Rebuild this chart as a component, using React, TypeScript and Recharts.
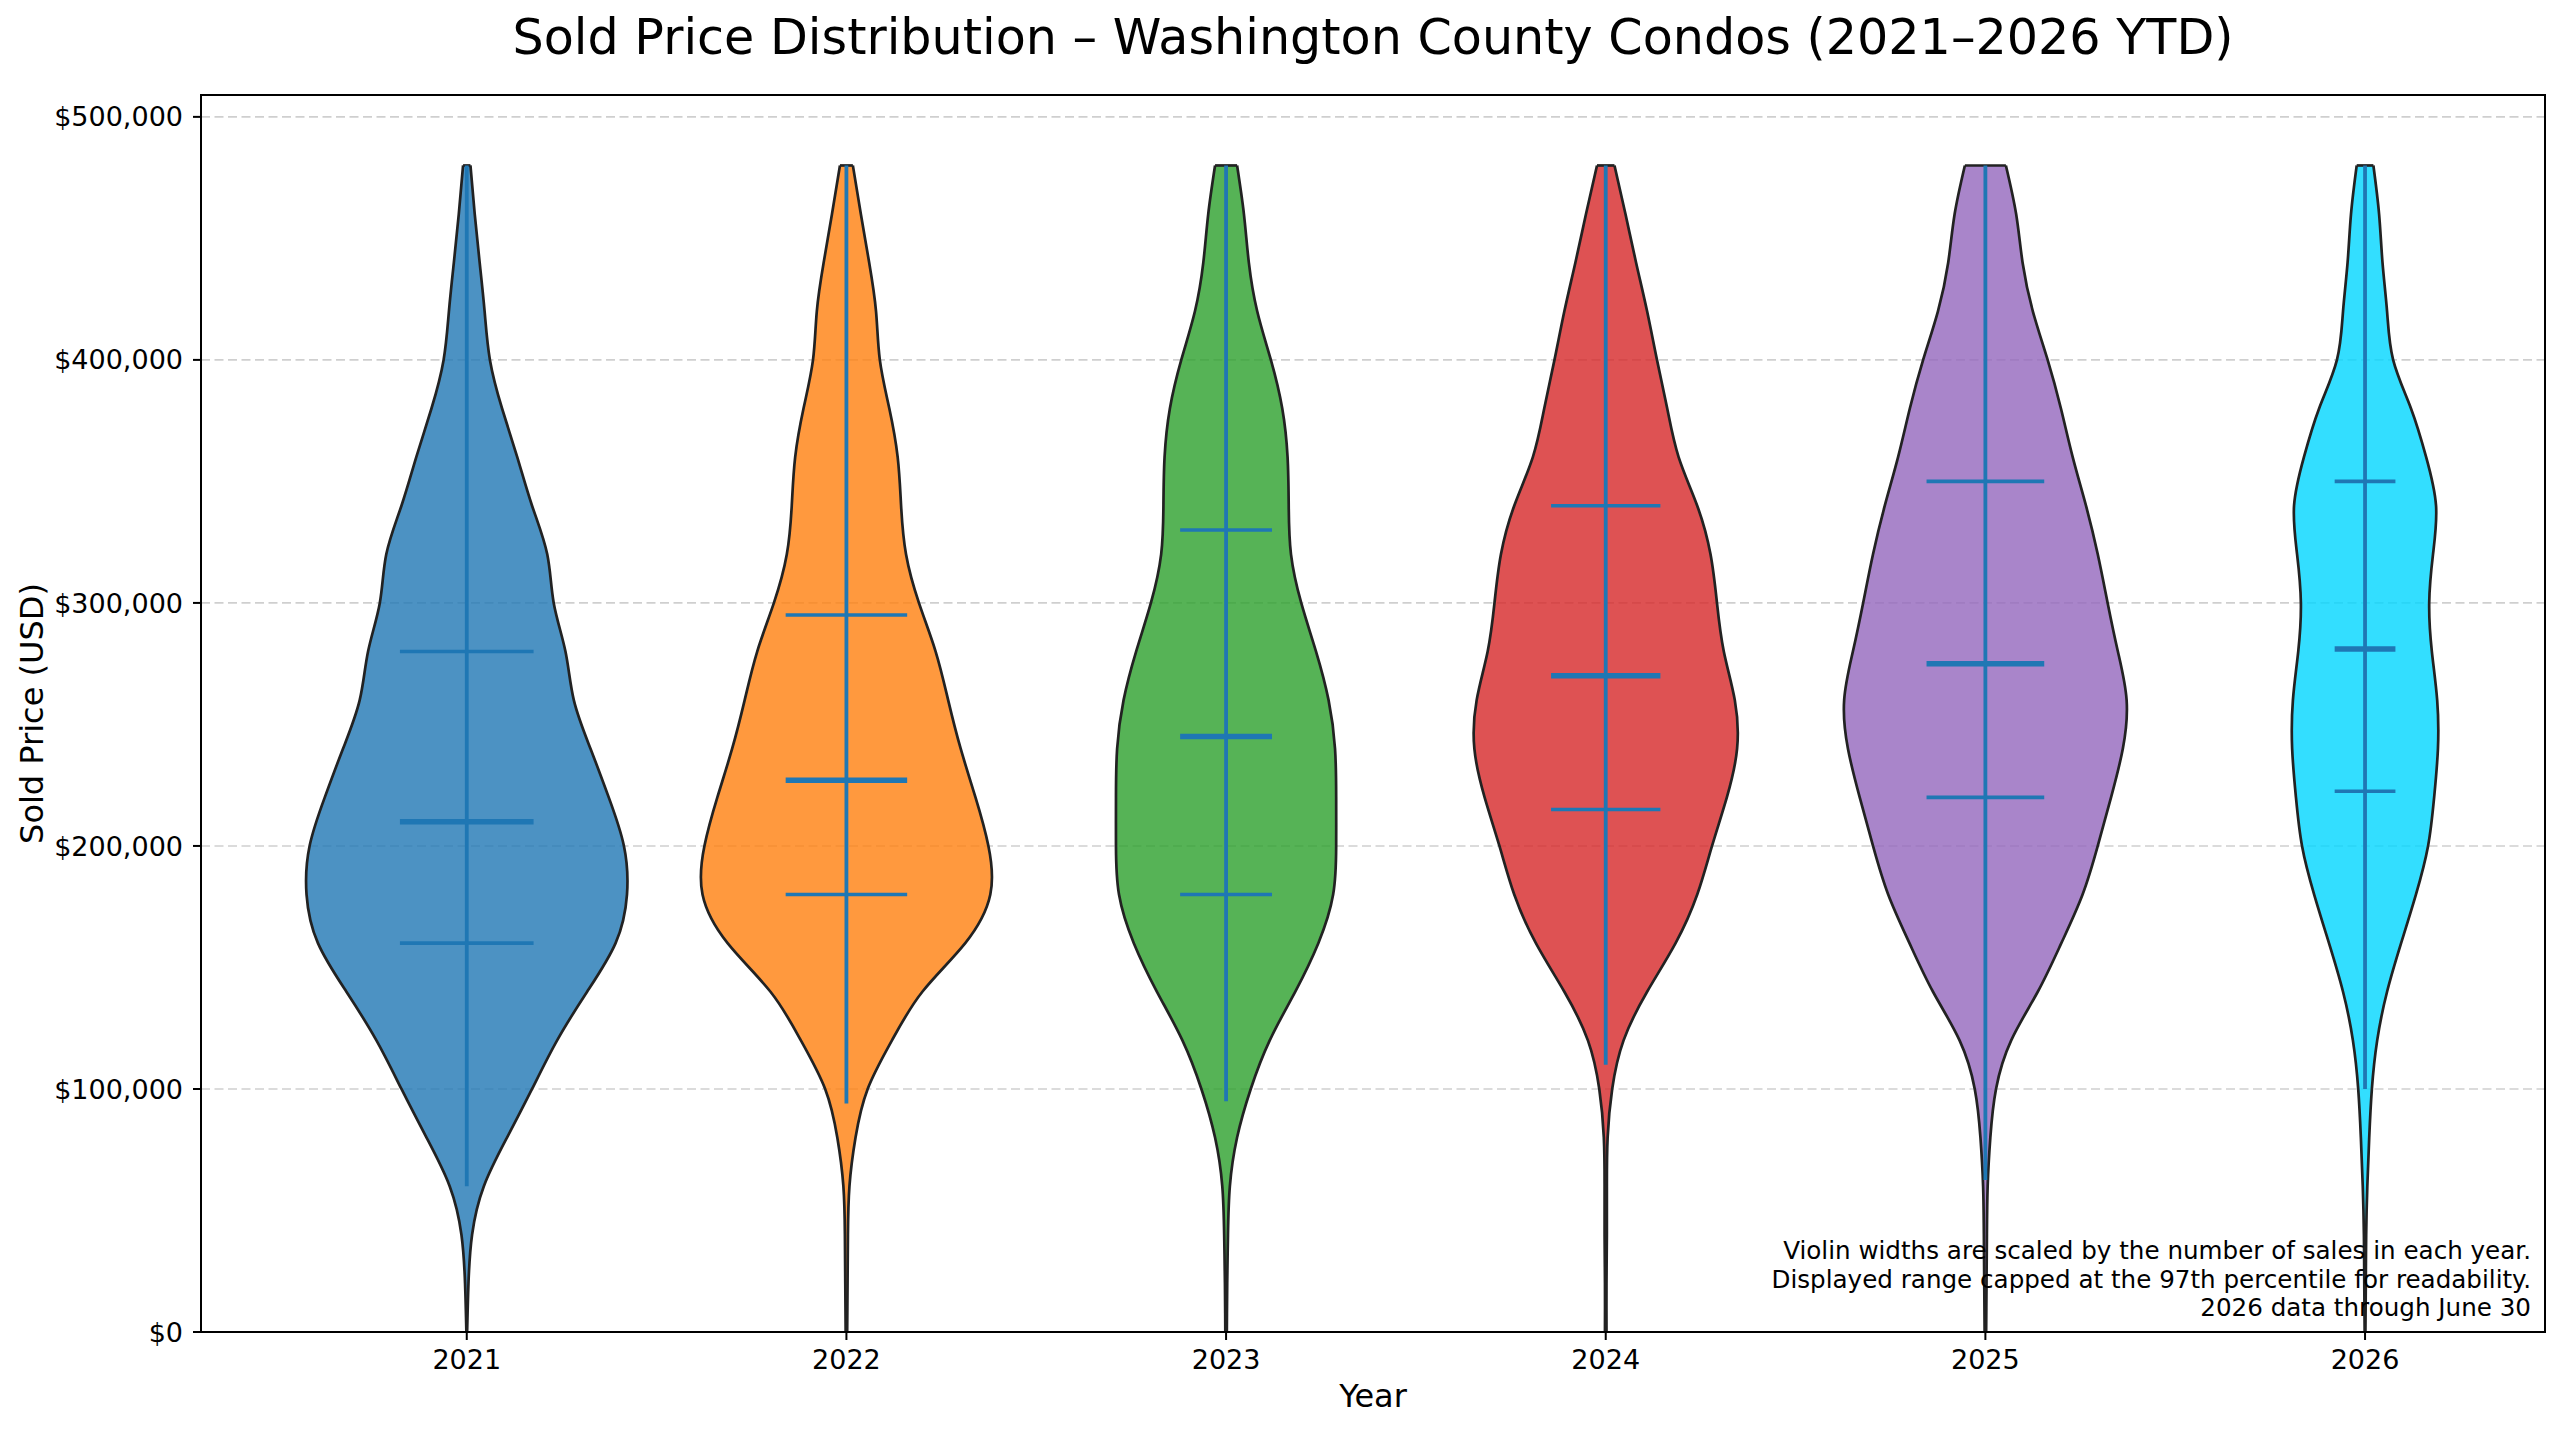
import React from 'react';
import {
  ComposedChart,
  Area,
  XAxis,
  YAxis,
  CartesianGrid,
  ReferenceLine,
  ReferenceArea,
} from 'recharts';

// price grid the violin outlines are sampled on
const PRICE_LEVELS = [
  0, 20000, 40000, 60000, 80000, 100000, 120000, 140000, 160000, 180000, 200000, 220000,
  240000, 260000, 280000, 300000, 320000, 340000, 360000, 380000, 400000, 420000, 440000,
  460000, 480000,
];

const YEARS = [2021, 2022, 2023, 2024, 2025, 2026];

// half-width of each violin (in year units) at every price level
const W2021 = [0.001, 0.0045, 0.014, 0.045, 0.106, 0.172, 0.238, 0.317, 0.392, 0.422, 0.414, 0.374, 0.326, 0.282, 0.26, 0.229, 0.212, 0.172, 0.133, 0.093, 0.061, 0.047, 0.034, 0.021, 0.0097];
const W2022 = [0.002, 0.003, 0.004, 0.008, 0.024, 0.056, 0.12, 0.2, 0.313, 0.379, 0.374, 0.34, 0.301, 0.268, 0.235, 0.191, 0.157, 0.144, 0.135, 0.113, 0.088, 0.078, 0.06, 0.038, 0.017];
const W2023 = [0.002, 0.003, 0.005, 0.01, 0.029, 0.065, 0.115, 0.182, 0.243, 0.282, 0.29, 0.29, 0.287, 0.27, 0.237, 0.198, 0.171, 0.165, 0.162, 0.148, 0.118, 0.082, 0.06, 0.047, 0.029];
const W2024 = [0.002, 0.002, 0.003, 0.003, 0.005, 0.017, 0.047, 0.109, 0.184, 0.241, 0.28, 0.319, 0.346, 0.34, 0.311, 0.293, 0.276, 0.241, 0.192, 0.162, 0.135, 0.109, 0.08, 0.052, 0.023];
const W2025 = [0.002, 0.003, 0.004, 0.006, 0.013, 0.028, 0.068, 0.138, 0.2, 0.256, 0.296, 0.331, 0.362, 0.372, 0.349, 0.322, 0.296, 0.265, 0.23, 0.199, 0.164, 0.125, 0.098, 0.081, 0.054];
const W2026 = [0.001, 0.002, 0.003, 0.006, 0.011, 0.018, 0.032, 0.058, 0.095, 0.134, 0.166, 0.182, 0.192, 0.19, 0.176, 0.169, 0.179, 0.187, 0.161, 0.121, 0.074, 0.058, 0.046, 0.037, 0.022];
const WIDTHS = [W2021, W2022, W2023, W2024, W2025, W2026];

const Q1 = [160000, 180000, 180000, 215000, 220000, 222500];
const MEDIANS = [210000, 227000, 245000, 270000, 275000, 281000];
const Q3 = [280000, 295000, 330000, 340000, 350000, 350000];
const BAR_LOW = [60000, 94000, 95000, 110000, 62500, 100000];
const BAR_HIGH = [480000, 480000, 480000, 480000, 480000, 480000];
const LINE_HALF = [0.176, 0.16, 0.121, 0.144, 0.155, 0.08];

const COLORS = ['#1f77b4', '#ff7f0e', '#2ca02c', '#d62728', '#9467bd', '#00d6ff'];

const Y_TICKS = [0, 100000, 200000, 300000, 400000, 500000];
const X_DOMAIN: [number, number] = [2020.3, 2026.474];
const Y_MAX = 509000;

const NOTES = [
  'Violin widths are scaled by the number of sales in each year.',
  'Displayed range capped at the 97th percentile for readability.',
  '2026 data through June 30',
];

const LINE_COLOR = '#1f77b4';
const EDGE_COLOR = '#222222';

const rows = PRICE_LEVELS.map((price, i) => {
  const row: Record<string, any> = { price };
  YEARS.forEach((year, k) => {
    const w = WIDTHS[k][i];
    row[`v${year}`] = [year - w, year + w];
  });
  return row;
});

const formatPrice = (v: number) => `$${v.toLocaleString('en-US')}`;

export default function App() {
  const topIndex = PRICE_LEVELS.length - 1;
  return (
    <div
      style={{
        position: 'absolute',
        left: 0,
        top: 0,
        width: 2560,
        height: 1431,
        background: '#fff',
        fontFamily: '"DejaVu Sans", sans-serif',
      }}
    >
      <ComposedChart
        layout="vertical"
        width={2560}
        height={1431}
        data={rows}
        margin={{ top: 95, right: 15, bottom: 0, left: 0 }}
      >
        <CartesianGrid vertical={false} stroke="#cfcfcf" strokeWidth={1.6} strokeDasharray="9 4.5" />
        <XAxis
          type="number"
          domain={X_DOMAIN}
          ticks={YEARS}
          allowDataOverflow
          height={99}
          axisLine={false}
          tickLine={{ stroke: '#000', strokeWidth: 2 }}
          tickSize={8}
          tickMargin={10}
          tick={{ fill: '#000', fontSize: 27 }}
        />
        <YAxis
          type="number"
          dataKey="price"
          domain={[0, Y_MAX]}
          ticks={Y_TICKS}
          reversed
          allowDataOverflow
          width={201}
          axisLine={false}
          tickLine={{ stroke: '#000', strokeWidth: 2 }}
          tickSize={8}
          tickMargin={10}
          tickFormatter={formatPrice}
          tick={{ fill: '#000', fontSize: 27 }}
        />
        {YEARS.map((year, k) => (
          <Area
            key={`violin-${year}`}
            type="natural"
            dataKey={`v${year}`}
            stroke={EDGE_COLOR}
            strokeWidth={2.7}
            fill={COLORS[k]}
            fillOpacity={0.8}
            dot={false}
            activeDot={false}
            isAnimationActive={false}
          />
        ))}
        {YEARS.map((year, k) => (
          <ReferenceLine
            key={`cap-${year}`}
            segment={[
              { x: year - WIDTHS[k][topIndex], y: PRICE_LEVELS[topIndex] },
              { x: year + WIDTHS[k][topIndex], y: PRICE_LEVELS[topIndex] },
            ]}
            stroke={EDGE_COLOR}
            strokeWidth={2.7}
            ifOverflow="visible"
          />
        ))}
        {YEARS.map((year, k) => (
          <ReferenceLine
            key={`bar-${year}`}
            segment={[
              { x: year, y: BAR_LOW[k] },
              { x: year, y: BAR_HIGH[k] },
            ]}
            stroke={LINE_COLOR}
            strokeWidth={3.8}
            ifOverflow="visible"
          />
        ))}
        {YEARS.map((year, k) =>
          [Q1[k], MEDIANS[k], Q3[k]].map((q, j) => (
            <ReferenceLine
              key={`q-${year}-${j}`}
              segment={[
                { x: year - LINE_HALF[k], y: q },
                { x: year + LINE_HALF[k], y: q },
              ]}
              stroke={LINE_COLOR}
              strokeWidth={j === 1 ? 5.5 : 3.6}
              ifOverflow="visible"
            />
          ))
        )}
        <ReferenceArea
          x1={X_DOMAIN[0]}
          x2={X_DOMAIN[1]}
          y1={0}
          y2={Y_MAX}
          fill="none"
          stroke="#000"
          strokeWidth={2}
          ifOverflow="visible"
        />
      </ComposedChart>
      <svg
        width={2560}
        height={1431}
        style={{ position: 'absolute', left: 0, top: 0, pointerEvents: 'none' }}
      >
        <text x={1373} y={54} textAnchor="middle" fontSize={49.2} fill="#000">
          Sold Price Distribution – Washington County Condos (2021–2026 YTD)
        </text>
        <text x={1373} y={1407} textAnchor="middle" fontSize={32} fill="#000">
          Year
        </text>
        <text
          x={43}
          y={713.5}
          textAnchor="middle"
          fontSize={32}
          fill="#000"
          transform="rotate(-90 43 713.5)"
        >
          Sold Price (USD)
        </text>
        {NOTES.map((line, i) => (
          <text key={line} x={2531} y={1259 + i * 28.7} textAnchor="end" fontSize={24.6} fill="#000">
            {line}
          </text>
        ))}
      </svg>
    </div>
  );
}
